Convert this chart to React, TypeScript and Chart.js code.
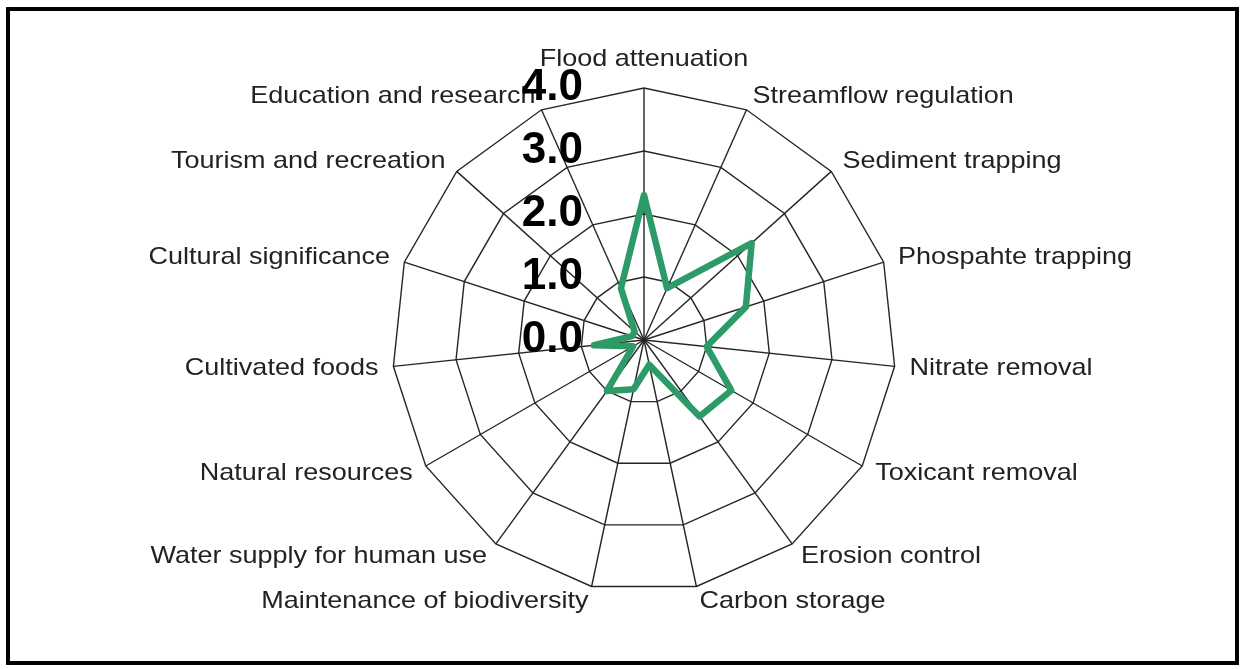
import React, { useEffect, useRef } from "react";
import { Chart, registerables } from "chart.js";

Chart.register(...registerables);

const categories: string[] = [
  "Flood attenuation",
  "Streamflow regulation",
  "Sediment trapping",
  "Phospahte trapping",
  "Nitrate removal",
  "Toxicant removal",
  "Erosion control",
  "Carbon storage",
  "Maintenance of biodiversity",
  "Water supply for human use",
  "Natural resources",
  "Cultivated foods",
  "Cultural significance",
  "Tourism and recreation",
  "Education and research",
];

const scores: number[] = [2.3, 0.9, 2.3, 1.7, 1.0, 1.6, 1.5, 0.4, 0.8, 1.0, 0.2, 0.8, 0.2, 0.2, 0.9];

const tickValues: number[] = [0, 1, 2, 3, 4];
const tickLabels: string[] = ["0.0", "1.0", "2.0", "3.0", "4.0"];

const labelPlugin = {
  id: "customRadarLabels",
  afterDraw(chart: any) {
    const scale = chart.scales.r;
    const ctx = chart.ctx as CanvasRenderingContext2D;
    const labels: string[] = chart.data.labels;
    const n = labels.length;
    ctx.save();
    ctx.fillStyle = "#222";
    ctx.font = '24px "Liberation Sans", Arial, sans-serif';
    labels.forEach((lab, i) => {
      const deg = (i * 360) / n;
      const p = scale.getPointPosition(i, scale.drawingArea + (deg === 0 ? 17 : 15));
      let align: CanvasTextAlign = "left";
      let baseline: CanvasTextBaseline = "middle";
      if (deg === 0) {
        align = "center";
        baseline = "bottom";
      } else if (deg === 180) {
        align = "center";
        baseline = "top";
      } else if (deg > 180) {
        align = "right";
      }
      ctx.save();
      ctx.translate(p.x, p.y);
      ctx.scale(1.125, 1);
      ctx.textAlign = align;
      ctx.textBaseline = baseline;
      ctx.fillText(lab, 0, 0);
      ctx.restore();
    });

    ctx.fillStyle = "#000";
    ctx.font = 'bold 44px "Liberation Sans", Arial, sans-serif';
    ctx.textAlign = "right";
    ctx.textBaseline = "middle";
    tickValues.forEach((v, k) => {
      const y = scale.yCenter - scale.getDistanceFromCenterForValue(v);
      ctx.fillText(tickLabels[k], scale.xCenter - 61, y);
    });
    ctx.restore();
  },
};

export default function App() {
  const ref = useRef<HTMLCanvasElement | null>(null);

  useEffect(() => {
    if (!ref.current) return;
    const chart = new Chart(ref.current, {
      type: "radar",
      data: {
        labels: categories,
        datasets: [
          {
            data: scores,
            borderColor: "#2c9b68",
            backgroundColor: "rgba(0,0,0,0)",
            borderWidth: 6.5,
            borderJoinStyle: "round",
            pointRadius: 0,
            pointHoverRadius: 0,
            fill: false,
            tension: 0,
          },
        ],
      },
      options: {
        responsive: false,
        animation: false,
        layout: { padding: { left: 392, right: 344, top: 88, bottom: 77 } },
        plugins: { legend: { display: false }, tooltip: { enabled: false } },
        scales: {
          r: {
            min: 0,
            max: 4,
            ticks: { stepSize: 1, display: false },
            pointLabels: { display: false },
            grid: { color: "#262626", lineWidth: 1.4, circular: false },
            angleLines: { display: true, color: "#262626", lineWidth: 1.4 },
          },
        },
      },
      plugins: [labelPlugin],
    });
    return () => chart.destroy();
  }, []);

  return (
    <div style={{ position: "fixed", left: 0, top: 0, width: 1240, height: 669, background: "#fff" }}>
      <canvas ref={ref} width={1240} height={669} style={{ position: "absolute", left: 0, top: 0, width: 1240, height: 669 }} />
      <div
        style={{
          position: "absolute",
          left: 6,
          top: 7,
          width: 1233,
          height: 658,
          boxSizing: "border-box",
          border: "4px solid #000",
          pointerEvents: "none",
        }}
      />
    </div>
  );
}
